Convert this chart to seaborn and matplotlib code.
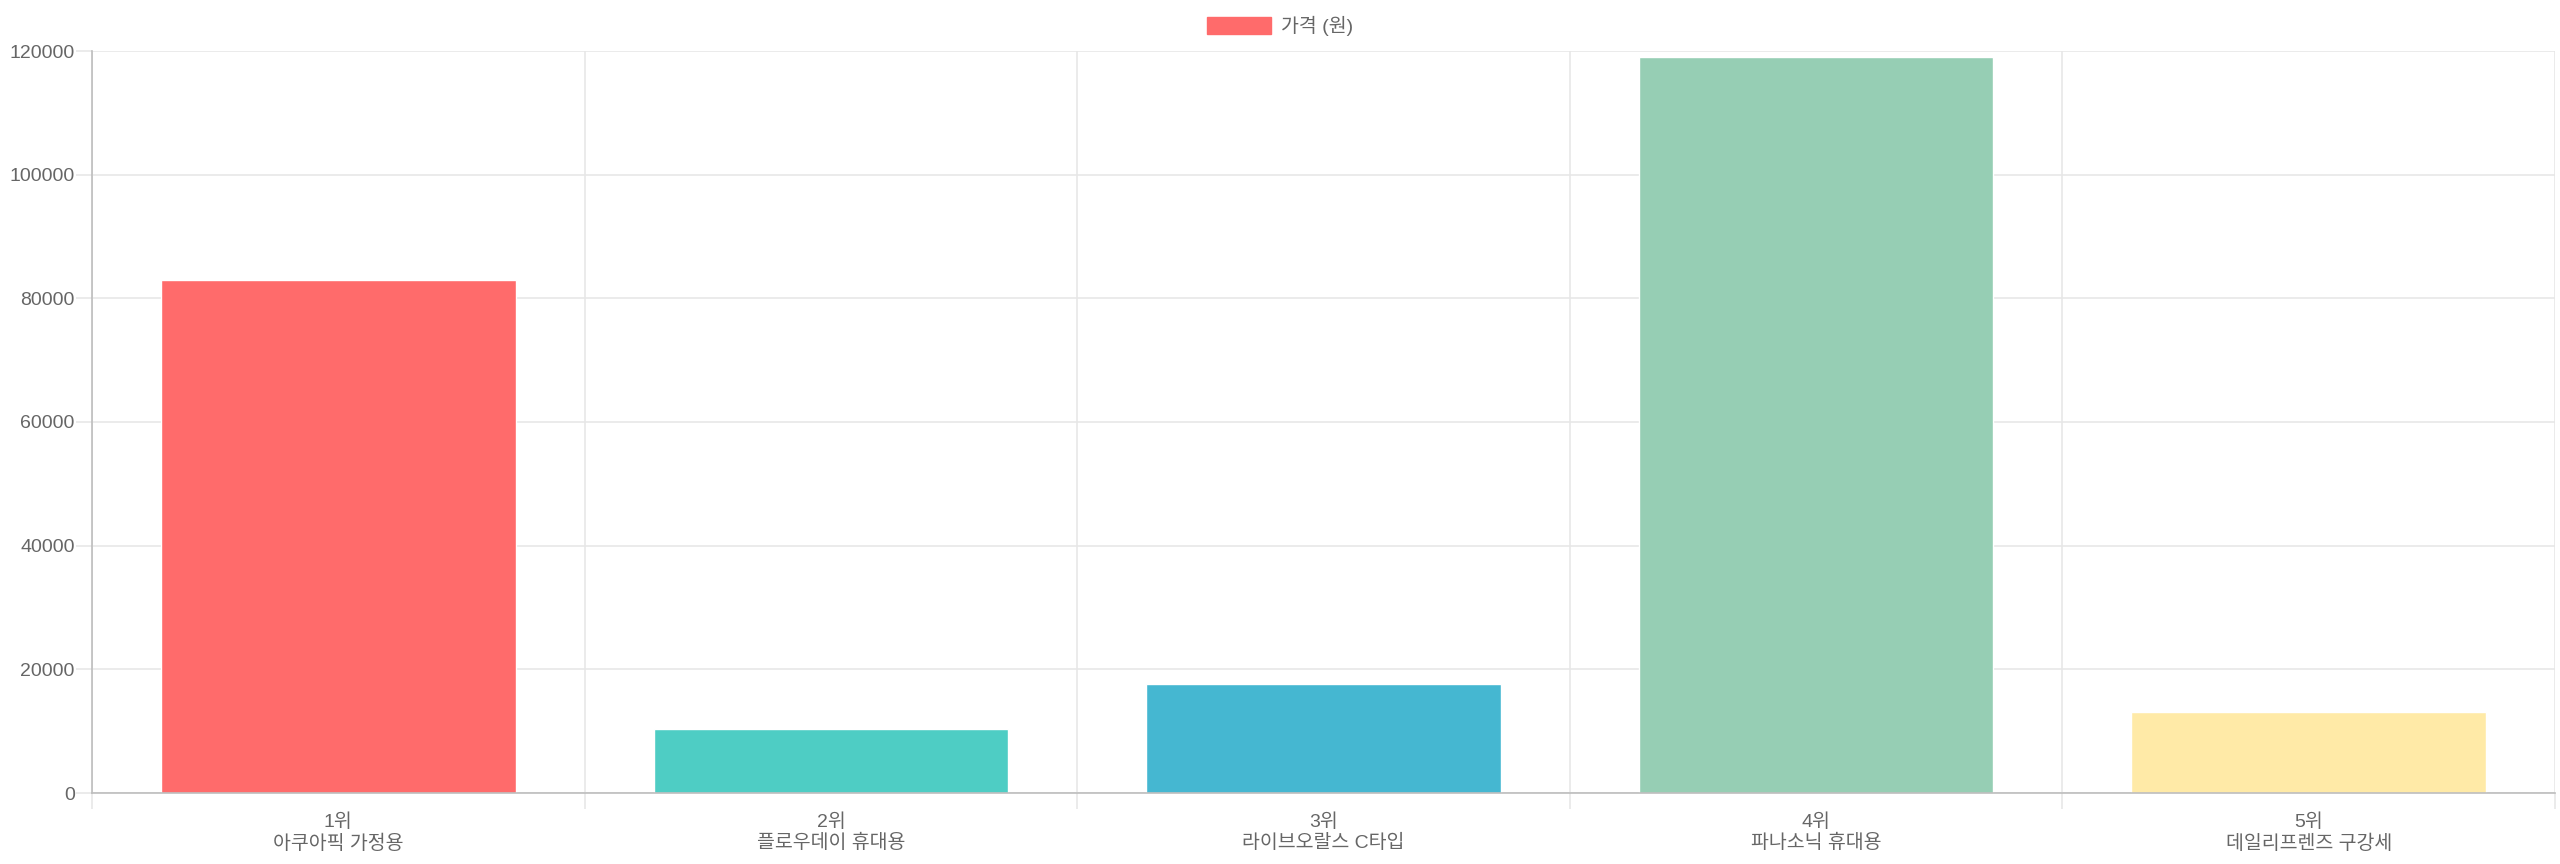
import matplotlib
matplotlib.use('Agg')
import matplotlib.pyplot as plt
from matplotlib.patches import Patch
from matplotlib.ticker import FixedLocator
import pandas as pd
import seaborn as sns

# chart data
ranks = ['1위', '2위', '3위', '4위', '5위']
names = ['아쿠아픽 가정용', '플로우데이 휴대용', '라이브오랄스 C타입', '파나소닉 휴대용', '데일리프렌즈 구강세']
prices = [83000, 10300, 17600, 119000, 13100]
colors = ['#FF6B6B', '#4ECDC4', '#45B7D1', '#96CEB4', '#FFEAA7']
series_label = '가격 (원)'
y_ticks = [0, 20000, 40000, 60000, 80000, 100000, 120000]

labels = [f'{r}\n{n}' for r, n in zip(ranks, names)]
df = pd.DataFrame({'label': labels, 'price': prices})

sns.set_style('white')
plt.rcParams['font.family'] = ['Liberation Sans', 'Noto Sans CJK KR', 'DejaVu Sans']
plt.rcParams['font.size'] = 14

text_color = '#666666'
grid_color = '#e6e6e6'
axis_color = '#bdbdbd'

W, H = 2560, 864
fig = plt.figure(figsize=(W / 100, H / 100), dpi=100)
ax = fig.add_axes([92 / W, (H - 793) / H, (2555 - 92) / W, (793 - 51) / H])

sns.barplot(data=df, x='label', y='price', hue='label', palette=colors,
            width=0.72, saturation=1, legend=False, ax=ax, zorder=3)

ax.set_xlim(-0.5, len(labels) - 0.5)
ax.set_ylim(y_ticks[0], y_ticks[-1])
ax.set_xlabel('')
ax.set_ylabel('')

# y axis
ax.set_yticks(y_ticks)
ax.set_yticklabels([str(v) for v in y_ticks])
ax.yaxis.grid(True, color=grid_color, linewidth=1.1, zorder=0)
ax.tick_params(axis='y', left=True, length=11.5, width=1.1, color=grid_color,
               labelcolor=text_color, labelsize=14, pad=1)

# x axis: labels at centers, grid lines at category boundaries
ax.set_xticks(range(len(labels)))
ax.set_xticklabels(labels)
ax.xaxis.set_minor_locator(FixedLocator([i - 0.5 for i in range(len(labels) + 1)]))
ax.xaxis.grid(True, which='minor', color=grid_color, linewidth=1.1, zorder=0)
ax.xaxis.grid(False, which='major')
ax.tick_params(axis='x', which='major', bottom=True, length=0, labelcolor=text_color,
               labelsize=14, pad=15)
ax.tick_params(axis='x', which='minor', bottom=True, length=11.5, width=1.1,
               color=grid_color)
ax.xaxis.get_minor_ticks()[0].tick1line.set_color(axis_color)

for side in ['top', 'right']:
    ax.spines[side].set_visible(False)
for side in ['left', 'bottom']:
    ax.spines[side].set_color(axis_color)
    ax.spines[side].set_linewidth(1.2)
    ax.spines[side].set_zorder(4)

# legend on top
fig.legend(handles=[Patch(facecolor=colors[0], edgecolor=colors[0])],
           labels=[series_label], loc='upper center',
           bbox_to_anchor=(0.5, 1 - 8 / H), frameon=False,
           handlelength=3.3, handleheight=0.95, handletextpad=0.55,
           labelcolor=text_color, fontsize=14, borderaxespad=0)

fig.savefig('out.png', dpi=100, facecolor='white')
